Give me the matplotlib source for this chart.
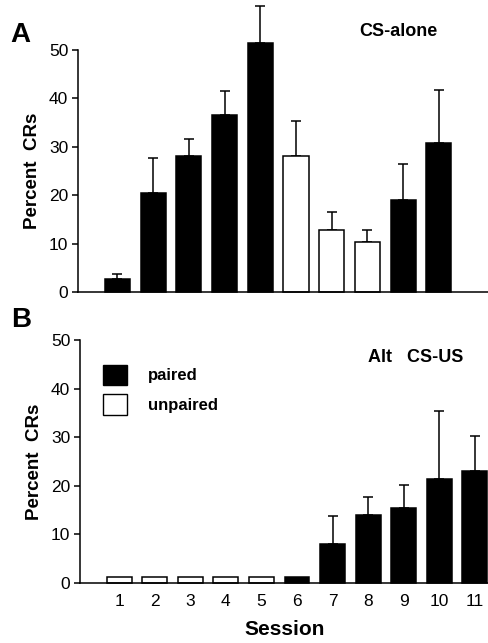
import numpy as np
import matplotlib.pyplot as plt
from matplotlib.patches import Patch

plt.rcParams['font.family'] = ['Liberation Sans', 'DejaVu Sans']

# Panel A: CS-alone
sesiones_a = [1, 2, 3, 4, 5, 6, 7, 8, 9, 10]
media_a = [2.7, 20.4, 28.0, 36.5, 51.4, 28.0, 12.9, 10.4, 19.1, 30.7]
error_a = [1.0, 7.3, 3.6, 5.0, 7.6, 7.3, 3.6, 2.5, 7.4, 11.0]
pareado_a = [True, True, True, True, True, False, False, False, True, True]

# Panel B: Alt CS-US
sesiones_b = [1, 2, 3, 4, 5, 6, 7, 8, 9, 10, 11]
media_b = [1.2, 1.2, 1.2, 1.2, 1.2, 1.2, 8.0, 13.9, 15.4, 21.5, 23.0]
error_b = [0, 0, 0, 0, 0, 0, 5.7, 3.9, 4.8, 13.9, 7.2]
pareado_b = [False, False, False, False, False, True, True, True, True, True, True]

fig = plt.figure(figsize=(4.89, 6.43), dpi=100)
ax_a = fig.add_axes([0.1595, 0.5459, 0.8405, 0.3763])
ax_b = fig.add_axes([0.1636, 0.0933, 0.8364, 0.3779])


def barras(ax, x, y, err, pareado):
    colores = ['black' if p else 'white' for p in pareado]
    rects = ax.bar(x, y, width=0.7, color=colores, edgecolor='black', linewidth=1.1, zorder=2)
    for r in rects:
        r.set_clip_on(False)
    for xi, yi, ei in zip(x, y, err):
        if ei > 0:
            ax.errorbar(xi, yi, yerr=[[0], [ei]], fmt='none', ecolor='black',
                        elinewidth=1.1, capsize=3.5, capthick=1.1, clip_on=False, zorder=1)
    ax.set_ylim(0, 50)
    ax.set_xlim(-0.1, 11.4)
    ax.set_yticks([0, 10, 20, 30, 40, 50])
    ax.spines['top'].set_visible(False)
    ax.spines['right'].set_visible(False)
    ax.spines['left'].set_linewidth(1.1)
    ax.spines['bottom'].set_linewidth(1.1)
    ax.tick_params(axis='y', direction='out', length=4, width=1.1, labelsize=12.5, pad=3)
    ax.set_ylabel('Percent  CRs', fontsize=13.5, fontweight='bold', labelpad=6)


barras(ax_a, sesiones_a, media_a, error_a, pareado_a)
ax_a.set_xticks([])
ax_a.text(0.78, 1.075, 'CS-alone', transform=ax_a.transAxes, ha='center', va='center',
          fontsize=13, fontweight='bold')

barras(ax_b, sesiones_b, media_b, error_b, pareado_b)
ax_b.set_xticks(sesiones_b)
ax_b.tick_params(axis='x', length=0, labelsize=12.5, pad=8)
ax_b.set_xlabel('Session', fontsize=15, fontweight='bold', labelpad=8)
ax_b.text(0.82, 0.93, 'Alt   CS-US', transform=ax_b.transAxes, ha='center', va='center',
          fontsize=13, fontweight='bold')

leyenda = [Patch(facecolor='black', edgecolor='black', label='paired'),
           Patch(facecolor='white', edgecolor='black', label='unpaired')]
ax_b.legend(handles=leyenda, loc='upper left', bbox_to_anchor=(0.02, 0.96), frameon=False,
            handlelength=1.4, handleheight=1.5, handletextpad=1.3, labelspacing=0.55,
            prop={'size': 12, 'weight': 'bold'})

fig.text(0.022, 0.946, 'A', fontsize=20, fontweight='bold', va='center')
fig.text(0.022, 0.502, 'B', fontsize=20, fontweight='bold', va='center')

plt.savefig('out.png', dpi=100)
